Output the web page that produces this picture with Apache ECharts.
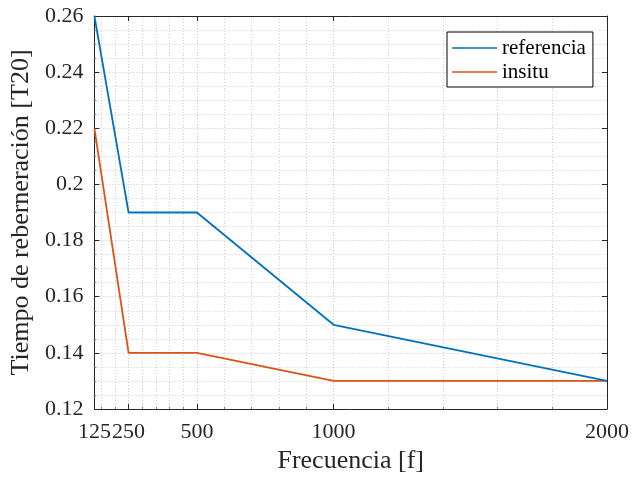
<!DOCTYPE html>
<html>
<head>
<meta charset="utf-8">
<script src="https://cdn.jsdelivr.net/npm/echarts@6/dist/echarts.min.js"></script>
<style>
html,body{margin:0;padding:0;background:#fff;}
#c{width:633px;height:479px;}
</style>
</head>
<body>
<div id="c"></div>
<script>
const frequencies = [125, 250, 500, 1000, 2000];
const referencia = [0.26, 0.19, 0.19, 0.15, 0.13];
const insitu = [0.22, 0.14, 0.14, 0.13, 0.13];
const xTicks = [125, 250, 500, 1000, 2000];
const xMinorGrid = [150, 200, 300, 350, 400, 450, 600, 700, 800, 900, 1200, 1400, 1600, 1800];
const seriesNames = ['referencia', 'insitu'];

const font = 'Liberation Serif';
const axisColor = '#262626';
const chart = echarts.init(document.getElementById('c'), null, {renderer: 'canvas'});

const toPairs = (ys) => frequencies.map((f, i) => [f, ys[i]]);

chart.setOption({
  animation: false,
  backgroundColor: '#fff',
  grid: {left: 94, top: 16, right: 26, bottom: 70, containLabel: false},
  legend: {
    orient: 'vertical',
    left: 447,
    top: 32,
    data: seriesNames,
    icon: 'rect',
    backgroundColor: '#fff',
    borderColor: '#000',
    borderWidth: 1,
    borderRadius: 0,
    padding: [5, 7, 4, 5],
    itemGap: 2,
    itemWidth: 45,
    itemHeight: 1.5,
    textStyle: {fontFamily: font, fontSize: 21, lineHeight: 22, color: '#000'}
  },
  xAxis: [
    {
      type: 'value', position: 'bottom', min: 125, max: 2000,
      name: 'Frecuencia [f]', nameLocation: 'middle', nameGap: 39,
      nameTextStyle: {fontFamily: font, fontSize: 26, color: axisColor},
      axisLine: {show: true, lineStyle: {color: axisColor, width: 1}},
      axisTick: {show: true, inside: true, length: 5, customValues: xTicks, lineStyle: {color: axisColor}},
      axisLabel: {show: true, customValues: xTicks, hideOverlap: false, fontFamily: font, fontSize: 22, color: axisColor, margin: 12,
        showMinLabel: true, showMaxLabel: true, formatter: (v) => String(v)},
      splitLine: {show: true, lineStyle: {color: '#c8c8c8', type: [1, 2], width: 1}}
    },
    {
      type: 'value', position: 'top', min: 125, max: 2000,
      axisLine: {show: true, onZero: false, lineStyle: {color: axisColor, width: 1}},
      axisTick: {show: true, inside: true, length: 5, customValues: xTicks, lineStyle: {color: axisColor}},
      axisLabel: {show: false},
      splitLine: {show: false}
    },
    {
      type: 'value', position: 'bottom', min: 125, max: 2000,
      axisLine: {show: false},
      axisTick: {show: true, inside: true, length: 2, customValues: xMinorGrid, lineStyle: {color: '#888'}},
      axisLabel: {show: false},
      splitLine: {show: true, lineStyle: {color: '#d0d0d0', type: [1, 2], width: 1}}
    }
  ],
  yAxis: [
    {
      type: 'value', position: 'left', min: 0.12, max: 0.26, interval: 0.02,
      name: 'Tiempo de reberneración [T20]', nameLocation: 'middle', nameGap: 58,
      nameTextStyle: {fontFamily: font, fontSize: 26, color: axisColor},
      axisLine: {show: true, onZero: false, lineStyle: {color: axisColor, width: 1}},
      axisTick: {show: true, inside: true, length: 5, lineStyle: {color: axisColor}},
      minorTick: {show: true, splitNumber: 4, length: 2, lineStyle: {color: '#888'}},
      axisLabel: {fontFamily: font, fontSize: 22, color: axisColor, margin: 11,
        formatter: (v) => String(parseFloat(v.toFixed(2)))},
      splitLine: {show: true, lineStyle: {color: '#c8c8c8', type: [1, 2], width: 1}},
      minorSplitLine: {show: true, lineStyle: {color: '#d0d0d0', type: [1, 2], width: 1}}
    },
    {
      type: 'value', position: 'right', min: 0.12, max: 0.26, interval: 0.02,
      axisLine: {show: true, onZero: false, lineStyle: {color: axisColor, width: 1}},
      axisTick: {show: true, inside: true, length: 5, lineStyle: {color: axisColor}},
      axisLabel: {show: false},
      splitLine: {show: false}
    }
  ],
  series: [
    {
      name: seriesNames[0], type: 'line', xAxisIndex: 0, yAxisIndex: 0,
      data: toPairs(referencia), symbol: 'none', showSymbol: false,
      lineStyle: {color: '#0072BD', width: 1.8}, itemStyle: {color: '#0072BD'}, z: 3
    },
    {
      name: seriesNames[1], type: 'line', xAxisIndex: 0, yAxisIndex: 0,
      data: toPairs(insitu), symbol: 'none', showSymbol: false,
      lineStyle: {color: '#D95319', width: 1.8}, itemStyle: {color: '#D95319'}, z: 2
    }
  ]
});
</script>
</body>
</html>
